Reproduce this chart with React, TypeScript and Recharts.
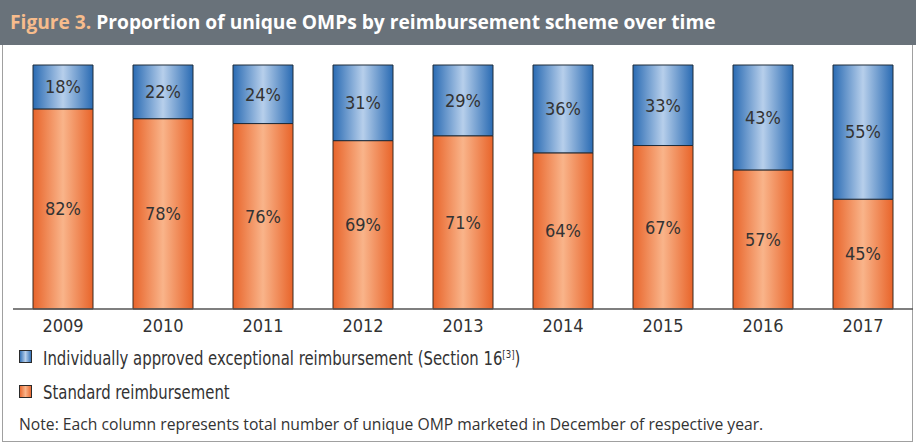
import React from "react";
import { BarChart, Bar, XAxis, YAxis, LabelList } from "recharts";

const years = ["2009", "2010", "2011", "2012", "2013", "2014", "2015", "2016", "2017"];
const exceptionalShare = [18, 22, 24, 31, 29, 36, 33, 43, 55];
const standardShare = [82, 78, 76, 69, 71, 64, 67, 57, 45];

const LABEL_FONT = "'DejaVu Sans Condensed', 'DejaVu Sans', sans-serif";
const TEXT_COLOR = "#333333";

const data = years.map((year, i) => ({
  year,
  standard: standardShare[i],
  exceptional: exceptionalShare[i],
}));

const pct = (v: unknown) => `${v}%`;

function LegendSwatch({ id }: { id: string }) {
  return (
    <svg width={13} height={13} style={{ verticalAlign: "middle", marginRight: 11 }}>
      <rect x={0.5} y={0.5} width={12} height={12} fill={`url(#${id})`} stroke="#2b2b2b" />
    </svg>
  );
}

export default function App() {
  return (
    <div
      style={{
        position: "absolute",
        left: 0,
        top: 0,
        width: 916,
        height: 445,
        background: "#fff",
        overflow: "hidden",
      }}
    >
      <svg width={0} height={0} style={{ position: "absolute" }}>
        <defs>
          <linearGradient id="lgOrange" x1="0" y1="0" x2="1" y2="0">
            <stop offset="0%" stopColor="#e8642a" />
            <stop offset="50%" stopColor="#f9b48a" />
            <stop offset="100%" stopColor="#e8642a" />
          </linearGradient>
          <linearGradient id="lgBlue" x1="0" y1="0" x2="1" y2="0">
            <stop offset="0%" stopColor="#2a6bb3" />
            <stop offset="50%" stopColor="#b7cfeb" />
            <stop offset="100%" stopColor="#2a6bb3" />
          </linearGradient>
        </defs>
      </svg>

      {/* title bar */}
      <div
        style={{
          position: "absolute",
          left: 0,
          top: 0,
          width: 916,
          height: 45,
          background: "#69727a",
          fontFamily: "'Open Sans', sans-serif",
          fontWeight: 700,
          fontSize: 19.2,
          lineHeight: "44px",
          color: "#ffffff",
          paddingLeft: 10,
          boxSizing: "border-box",
          whiteSpace: "nowrap",
        }}
      >
        <span style={{ color: "#f7bc8c" }}>Figure 3.</span> Proportion of unique OMPs by reimbursement
        scheme over time
      </div>

      {/* framed panel */}
      <div
        style={{
          position: "absolute",
          left: 2,
          top: 45,
          width: 911,
          height: 397,
          border: "1px solid #a0a0a0",
          borderTop: "none",
          boxSizing: "border-box",
        }}
      />

      <div style={{ position: "absolute", left: 0, top: 0 }}>
        <BarChart
          width={916}
          height={340}
          data={data}
          margin={{ top: 65, right: 3, bottom: 0, left: 13 }}
          barSize={60}
        >
          <defs>
            <linearGradient id="gOrange" x1="0" y1="0" x2="1" y2="0">
              <stop offset="0%" stopColor="#e8642a" />
              <stop offset="50%" stopColor="#f9b48a" />
              <stop offset="100%" stopColor="#e8642a" />
            </linearGradient>
            <linearGradient id="gBlue" x1="0" y1="0" x2="1" y2="0">
              <stop offset="0%" stopColor="#2a6bb3" />
              <stop offset="50%" stopColor="#b7cfeb" />
              <stop offset="100%" stopColor="#2a6bb3" />
            </linearGradient>
          </defs>
          <XAxis
            dataKey="year"
            height={31}
            tickLine={false}
            axisLine={{ stroke: "#555555", strokeWidth: 1.5 }}
            tick={{ fill: TEXT_COLOR, fontSize: 18, fontFamily: LABEL_FONT }}
            tickMargin={4}
          />
          <YAxis hide domain={[0, 100]} />
          <Bar
            dataKey="standard"
            stackId="s"
            fill="url(#gOrange)"
            stroke="#3b2a20"
            strokeWidth={1}
            isAnimationActive={false}
          >
            <LabelList
              dataKey="standard"
              position="center"
              formatter={pct}
              style={{ fill: TEXT_COLOR, fontSize: 18, fontFamily: LABEL_FONT }}
            />
          </Bar>
          <Bar
            dataKey="exceptional"
            stackId="s"
            fill="url(#gBlue)"
            stroke="#1f2c3a"
            strokeWidth={1}
            isAnimationActive={false}
          >
            <LabelList
              dataKey="exceptional"
              position="center"
              formatter={pct}
              style={{ fill: TEXT_COLOR, fontSize: 18, fontFamily: LABEL_FONT }}
            />
          </Bar>
        </BarChart>
      </div>

      {/* legend */}
      <div
        style={{
          position: "absolute",
          left: 19,
          top: 339,
          fontFamily: LABEL_FONT,
          fontSize: 19,
          color: TEXT_COLOR,
          lineHeight: "32px",
          whiteSpace: "nowrap",
        }}
      >
        <div>
          <LegendSwatch id="lgBlue" />
          <span
            style={{
              verticalAlign: "middle",
              display: "inline-block",
              transform: "scaleX(0.87)",
              transformOrigin: "left center",
            }}
          >
            Individually approved exceptional reimbursement (Section 16
            <sup style={{ fontSize: 11 }}>[3]</sup>)
          </span>
        </div>
        <div>
          <LegendSwatch id="lgOrange" />
          <span
            style={{
              verticalAlign: "middle",
              display: "inline-block",
              transform: "scaleX(0.87)",
              transformOrigin: "left center",
            }}
          >
            Standard reimbursement
          </span>
        </div>
      </div>

      {/* note */}
      <div
        style={{
          position: "absolute",
          left: 19,
          top: 413,
          fontFamily: "'Open Sans', sans-serif",
          fontSize: 15.7,
          color: TEXT_COLOR,
          whiteSpace: "nowrap",
        }}
      >
        Note: Each column represents total number of unique OMP marketed in December of respective year.
      </div>
    </div>
  );
}
